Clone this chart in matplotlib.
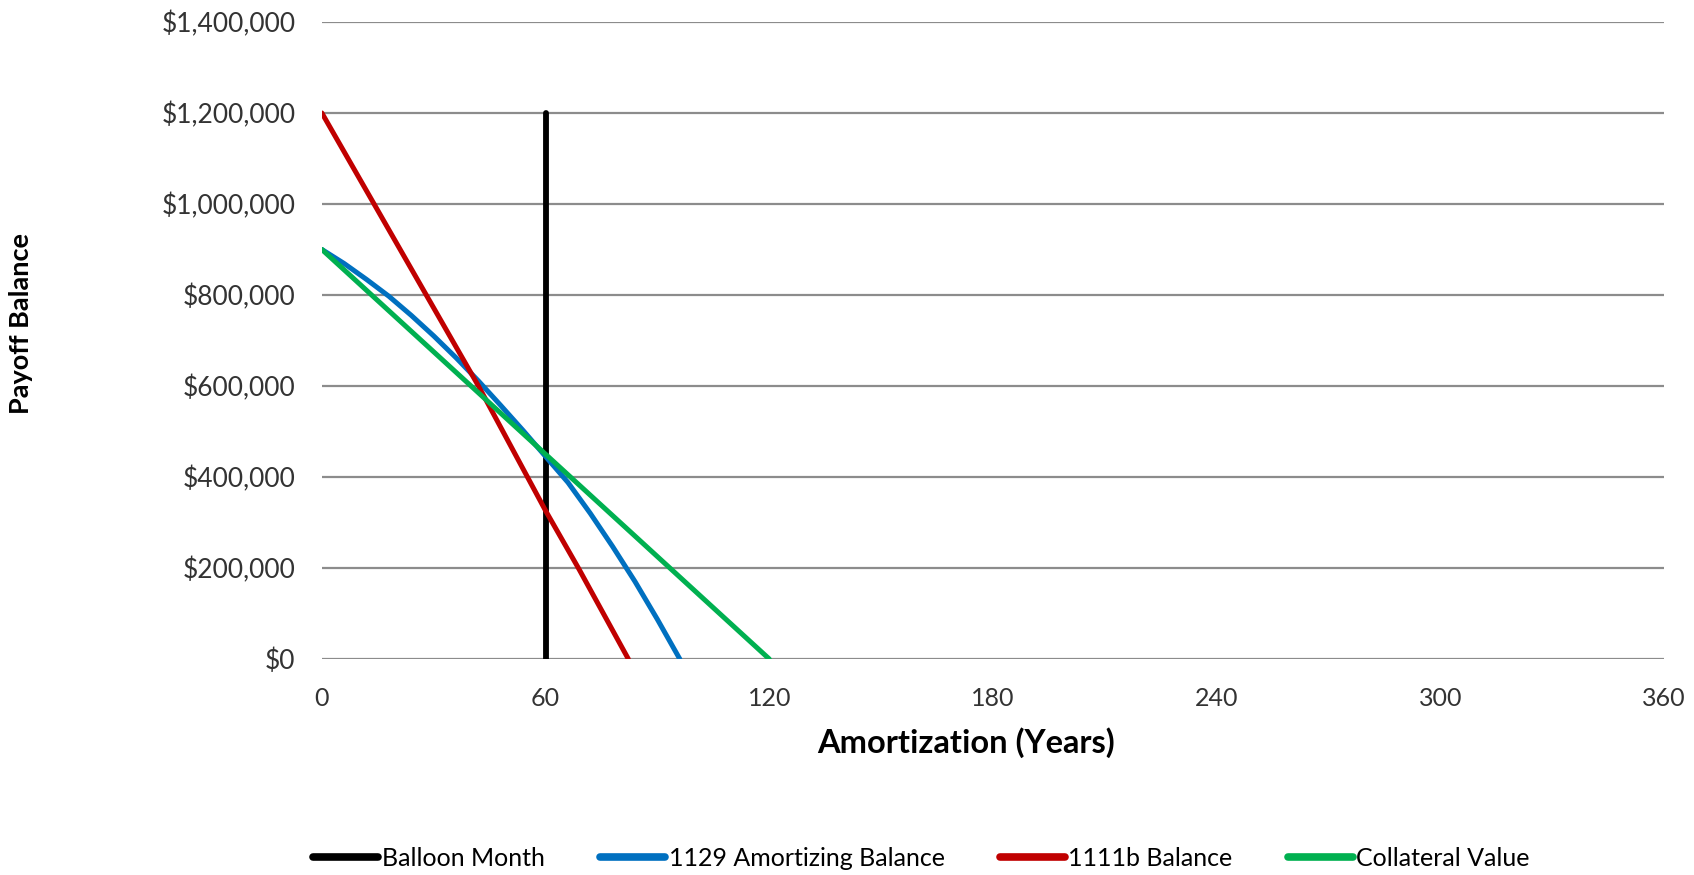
import matplotlib
matplotlib.use("Agg")
import matplotlib.pyplot as plt
from matplotlib import font_manager
from matplotlib.ticker import FuncFormatter

# months and balances
balloon_x = [60, 60]
balloon_y = [0, 1200000]

amort_months = [0, 6, 12, 18, 24, 30, 36, 42, 48, 54, 60, 66, 72, 78, 84, 90, 96]
amort_balance = [900000, 869000, 834000, 797000, 755000, 710000, 662000, 611000,
                 557000, 502000, 445000, 388000, 320000, 247000, 170000, 87000, 0]

b1111_months = [0, 14, 28, 42, 60, 69, 82.2]
b1111_balance = [1200000, 1000000, 800000, 600000, 326000, 197000, 0]

collateral_months = [0, 120]
collateral_value = [900000, 0]

xticks = [0, 60, 120, 180, 240, 300, 360]
yticks = [0, 200000, 400000, 600000, 800000, 1000000, 1200000, 1400000]

names = {f.name for f in font_manager.fontManager.ttflist}
main_font = "Lato" if "Lato" in names else "DejaVu Sans"

plt.rcParams['font.family'] = [main_font, 'DejaVu Sans']

fig = plt.figure(figsize=(16.94, 8.75), dpi=100)
ax = fig.add_axes([0.190, 0.2469, 0.7923, 0.728])

ax.plot(balloon_x, balloon_y, color="black", lw=4.2, solid_capstyle="round", label="Balloon Month", zorder=3)
ax.plot(amort_months, amort_balance, color="#0070C0", lw=3.6, solid_capstyle="round", label="1129 Amortizing Balance", zorder=3)
ax.plot(b1111_months, b1111_balance, color="#C00000", lw=3.6, solid_capstyle="round", label="1111b Balance", zorder=3)
ax.plot(collateral_months, collateral_value, color="#00B050", lw=3.6, solid_capstyle="round", label="Collateral Value", zorder=3)

ax.set_xlim(0, 360)
ax.set_ylim(0, 1400000)
ax.set_xticks(xticks)
ax.set_yticks(yticks)
ax.yaxis.set_major_formatter(FuncFormatter(lambda v, p: "${:,.0f}".format(v)))
ax.grid(axis="y", color="#8c8c8c", lw=1.6)
ax.set_axisbelow(True)
for s in ax.spines.values():
    s.set_visible(False)
ax.tick_params(length=0)
ax.tick_params(axis="y", labelsize=19, colors="#333333", pad=19)
ax.tick_params(axis="x", labelsize=18, colors="#333333", pad=20)

ax.set_xlabel("Amortization (Years)", fontsize=23.5, fontweight="bold", va="center")
ax.xaxis.set_label_coords(0.48, -0.132)
fig.text(0.0125, 0.63, "Payoff Balance", rotation=90, ha="center", va="center",
         fontsize=19.5, fontweight="bold")

leg = fig.legend(loc="center", bbox_to_anchor=(0.544, 0.019), ncol=4, frameon=False,
                 prop={"size": 18}, handlelength=2.6,
                 handletextpad=0.15, columnspacing=2.2)
for ln in leg.get_lines():
    ln.set_linewidth(5.5)

fig.savefig("out.png", dpi=100)
